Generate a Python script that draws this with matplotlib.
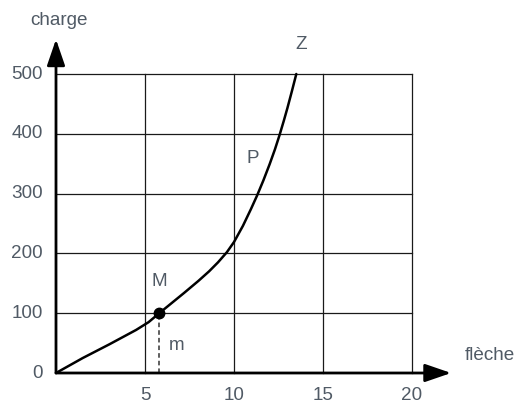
import matplotlib
matplotlib.use("Agg")
import matplotlib.pyplot as plt

# load–deflection curve (flèche, charge)
fleche = [0, 1.5, 3.0, 4.5, 5.2, 5.8, 6.5, 7.2, 8.0, 8.6, 9.1, 9.6, 10.0, 10.5,
          10.95, 11.3, 11.65, 12.0, 12.3, 12.55, 12.8, 13.0, 13.25, 13.5]
charge = [0, 25, 48, 72, 85, 100, 117, 134, 154, 170, 185, 202, 219, 246,
          274, 297, 322, 349, 374, 397, 422, 443, 471, 500]

x_ticks = [5, 10, 15, 20]
y_ticks = [0, 100, 200, 300, 400, 500]
point_M = (5.8, 100)

W, H = 520, 403
fig = plt.figure(figsize=(W / 100, H / 100), dpi=100)
ax = fig.add_axes([0, 0, 1, 1])
ax.axis("off")

# scale: 17.8 px per unit of flèche, 0.598 px per unit of charge
px_x, px_y = 17.8, 0.598
ox, oy = 56.0, 30.0
ax.set_xlim(-ox / px_x, (W - ox) / px_x)
ax.set_ylim(-oy / px_y, (H - oy) / px_y)

txt = dict(color="#505a65", fontsize=13.6, family="Liberation Sans")
grid_c = "#1a1a1a"

# grid
for xv in x_ticks:
    ax.plot([xv, xv], [0, max(y_ticks)], color=grid_c, lw=0.9, zorder=1)
for yv in y_ticks[1:]:
    ax.plot([0, max(x_ticks)], [yv, yv], color=grid_c, lw=0.9, zorder=1)

# axes with arrows
arrow = dict(arrowstyle="-|>,head_length=1.6,head_width=0.55", color="black", lw=2.0,
             shrinkA=0, shrinkB=0)
ax.annotate("", xy=(22.2, 0), xytext=(0, 0), arrowprops=arrow, zorder=3)
ax.annotate("", xy=(0, 558), xytext=(0, 0), arrowprops=arrow, zorder=3)

# tick labels
for xv in x_ticks:
    ax.text(xv, -37, str(xv), ha="center", va="center", **txt)
for yv in y_ticks:
    ax.text(-0.75, yv, str(yv), ha="right", va="center", **txt)

# curve
ax.plot(fleche, charge, color="black", lw=1.8, solid_joinstyle="round",
        solid_capstyle="round", zorder=4)

# point M and its projection
ax.plot([point_M[0], point_M[0]], [0, point_M[1]], color="#333333", lw=1.1,
        ls=(0, (3, 2)), zorder=2)
ax.plot(*point_M, "o", color="black", ms=7.5, zorder=5)

ax.text(5.83, 153, "M", ha="center", va="center", **txt)
ax.text(6.8, 46, "m", ha="center", va="center", **txt)
ax.text(11.06, 359, "P", ha="center", va="center", **txt)
ax.text(13.8, 549, "Z", ha="center", va="center", **txt)
ax.text(0.16, 590, "charge", ha="center", va="center", **txt)
ax.text(24.4, 30, "flèche", ha="center", va="center", **txt)

fig.savefig("out.png", dpi=100)
